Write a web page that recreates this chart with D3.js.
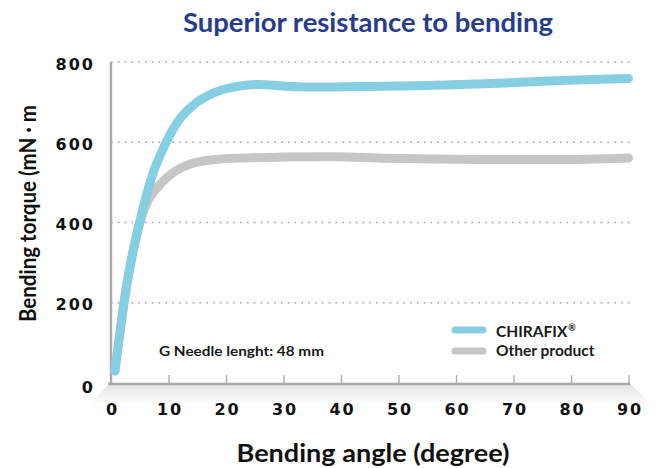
<!DOCTYPE html>
<html>
<head>
<meta charset="utf-8">
<script src="https://cdn.jsdelivr.net/npm/d3@7"></script>
<style>
  html, body { margin: 0; padding: 0; background: #fff; }
  svg { display: block; }
</style>
</head>
<body>
<svg id="chart" width="659" height="468"></svg>
<script>
// ---- data ----
const chartTitle = "Superior resistance to bending";
const xAxisTitle = "Bending angle (degree)";
const yAxisTitle = "Bending torque (mN \u00b7 m";
const noteText = "G Needle lenght: 48 mm";
const seriesNames = ["CHIRAFIX", "Other product"];
const seriesMarks = ["\u00ae", ""];

const chirafixAngle  = [0.7, 2.5, 4.8, 7.1, 9.5, 11.8, 14.7, 18.2, 22.3, 25.8, 30, 34, 39, 45, 53.5, 65, 77, 90];
const chirafixTorque = [30, 224, 390, 514, 597, 655, 697, 725, 740, 744, 740, 738, 738, 739, 741, 746, 753, 759];

const otherAngle  = [0.7, 2.5, 4.8, 6.5, 7.7, 10.6, 14.1, 18.2, 23.5, 30, 38.9, 47.7, 56, 65, 77, 90];
const otherTorque = [30, 222, 388, 456, 481, 522, 547, 557, 561, 563, 564, 560, 558, 557, 557, 561];

const xTicks = [0, 10, 20, 30, 40, 50, 60, 70, 80, 90];
const yTicks = [0, 200, 400, 600, 800];

// ---- layout ----
const svg = d3.select("#chart");
const x = d3.scaleLinear().domain([0, 90]).range([111, 628.5]);
const y = d3.scaleLinear().domain([0, 800]).range([383, 62]);

const blue = "#86cfe3";
const gray = "#c6c6c6";
const axisGray = "#a9a9a9";
const labelFont = "Lato, 'Open Sans', sans-serif";
const tickFont = "'DejaVu Sans', sans-serif";

function fit(sel, w) {
  sel.attr("textLength", w).attr("lengthAdjust", "spacingAndGlyphs");
}

// shadow under x axis
const defs = svg.append("defs");
const grad = defs.append("linearGradient").attr("id", "shade")
  .attr("x1", 0).attr("y1", 0).attr("x2", 0).attr("y2", 1);
grad.append("stop").attr("offset", "0%").attr("stop-color", "#e4e4e4");
grad.append("stop").attr("offset", "100%").attr("stop-color", "#ffffff");
svg.append("path")
  .attr("d", `M${x(0) - 3},385 L${x(90) + 3},385 L${x(90) + 24},405 L${x(0) - 22},405 Z`)
  .attr("fill", "url(#shade)");

// gridlines
svg.append("g").selectAll("line").data(yTicks.filter(d => d > 0)).join("line")
  .attr("x1", x(0)).attr("x2", x(90) + 2)
  .attr("y1", d => y(d)).attr("y2", d => y(d))
  .attr("stroke", "#a0a0a0").attr("stroke-width", 1.6)
  .attr("stroke-dasharray", "1.6 5.2");

// y axis
const yAxis = d3.axisLeft(y).tickValues(yTicks).tickSize(0).tickPadding(16);
const gy = svg.append("g").attr("transform", `translate(${x(0)},0)`).call(yAxis);
gy.select(".domain").attr("stroke", axisGray).attr("stroke-width", 2.4)
  .attr("d", `M0,${y(800)}V${y(0) + 2}`);
gy.selectAll("text")
  .attr("font-family", tickFont).attr("font-weight", "bold").attr("font-size", 16)
  .attr("letter-spacing", 2).attr("fill", "#111")
  .attr("dy", d => d === 0 ? "0.62em" : "0.45em");

// x axis
const xAxis = d3.axisBottom(x).tickValues(xTicks).tickSizeInner(-9).tickSizeOuter(0).tickPadding(20);
const gx = svg.append("g").attr("transform", `translate(0,${y(0) + 1})`).call(xAxis);
gx.select(".domain").attr("stroke", axisGray).attr("stroke-width", 2.4)
  .attr("d", `M${x(0) - 3},0H${x(90) + 2}`);
gx.selectAll(".tick line").attr("stroke", axisGray).attr("stroke-width", 1.3)
  .attr("opacity", d => d === 0 ? 0 : 1);
gx.selectAll("text")
  .attr("font-family", tickFont).attr("font-weight", "bold").attr("font-size", 16)
  .attr("letter-spacing", 2).attr("fill", "#111").attr("dx", 1);

// lines
const line = d3.line().x(d => x(d[0])).y(d => y(d[1])).curve(d3.curveMonotoneX);
const otherPts = otherAngle.map((a, i) => [a, otherTorque[i]]);
const chiraPts = chirafixAngle.map((a, i) => [a, chirafixTorque[i]]);
svg.append("path").attr("d", line(otherPts))
  .attr("fill", "none").attr("stroke", gray).attr("stroke-width", 9)
  .attr("stroke-linecap", "round").attr("stroke-linejoin", "round");
svg.append("path").attr("d", line(chiraPts))
  .attr("fill", "none").attr("stroke", blue).attr("stroke-width", 9)
  .attr("stroke-linecap", "round").attr("stroke-linejoin", "round");

// legend
const legend = svg.append("g");
const legendColors = [blue, gray];
const legendY = [330, 351];
const legendTextY = [336.5, 356];
seriesNames.forEach((name, i) => {
  legend.append("line")
    .attr("x1", 455).attr("x2", 483).attr("y1", legendY[i]).attr("y2", legendY[i])
    .attr("stroke", legendColors[i]).attr("stroke-width", 7).attr("stroke-linecap", "round");
  const t = legend.append("text").attr("x", 496).attr("y", legendTextY[i])
    .attr("font-family", labelFont).attr("font-weight", "bold").attr("font-size", 15.5)
    .attr("fill", "#1a1a1a");
  t.append("tspan").text(name);
  if (seriesMarks[i]) {
    t.append("tspan").attr("font-size", 9).attr("dy", -6).attr("dx", 1).text(seriesMarks[i]);
  }
});

// note
svg.append("text").attr("x", 159).attr("y", 356)
  .attr("font-family", labelFont).attr("font-weight", "bold").attr("font-size", 14)
  .attr("fill", "#1a1a1a").text(noteText).call(fit, 165);

// titles
svg.append("text").attr("x", 183).attr("y", 31.5)
  .attr("font-family", labelFont).attr("font-weight", "bold").attr("font-size", 27)
  .attr("fill", "#283c8e").text(chartTitle).call(fit, 370);

svg.append("text").attr("x", 236.5).attr("y", 461.5)
  .attr("font-family", labelFont).attr("font-weight", "bold").attr("font-size", 24)
  .attr("fill", "#111").text(xAxisTitle).call(fit, 273);

svg.append("text")
  .attr("transform", "translate(36,322) rotate(-90)")
  .attr("font-family", labelFont).attr("font-weight", "bold").attr("font-size", 22)
  .attr("fill", "#111").text(yAxisTitle).call(fit, 217);
</script>
</body>
</html>
